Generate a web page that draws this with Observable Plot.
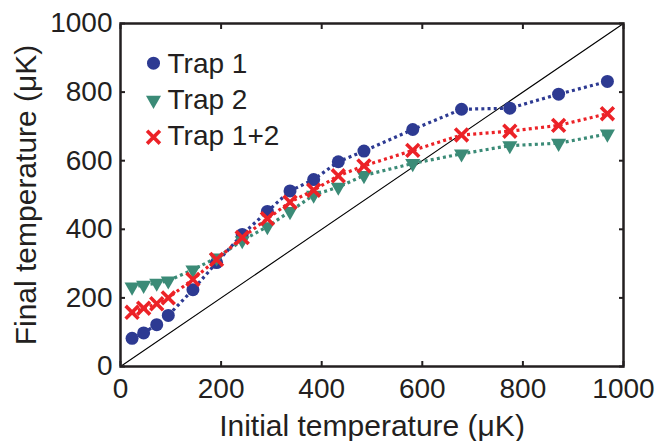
<!DOCTYPE html>
<html><head><meta charset="utf-8">
<script src="https://cdn.jsdelivr.net/npm/d3@7"></script>
<script src="https://cdn.jsdelivr.net/npm/@observablehq/plot@0.6"></script>
<style>body{margin:0;background:#fff}#chart{width:672px;height:441px}</style>
</head><body><div id="chart"></div>
<script>
// Data
const initialT = [23, 46, 72, 95, 144, 191, 242, 292, 337, 384, 433, 484, 581, 678, 774, 871, 968];
const trap1    = [82, 98, 122, 149, 224, 303, 385, 452, 512, 545, 597, 628, 691, 750, 753, 794, 831];
const trap2    = [232, 237, 243, 250, 282, 317, 367, 408, 452, 500, 523, 557, 592, 620, 644, 651, 678];
const trap12   = [158, 170, 183, 200, 254, 312, 376, 431, 479, 514, 556, 585, 630, 675, 686, 703, 737];
const seriesNames = ["Trap 1", "Trap 2", "Trap 1+2"];
const seriesValues = [trap1, trap2, trap12];
const xTicks = [0, 200, 400, 600, 800, 1000];
const yTicks = [0, 200, 400, 600, 800, 1000];
const diagonal = [0, 1000];
const xLabel = "Initial temperature (\u03BCK)";
const yLabel = "Final temperature (\u03BCK)";

const colors = ["#2d3a92", "#3b8b77", "#ec2227"];
const symbolOpts = [
  {symbol: "circle", r: 6.5, fill: colors[0], stroke: "none"},
  {symbol: "triangle", r: 5.6, rotate: 180, fill: colors[1], stroke: "none"},
  {symbol: "times", r: 5.9, stroke: colors[2], strokeWidth: 3.6, fill: "none"}
];

const rows = [];
seriesValues.forEach((vals, i) => vals.forEach((v, j) => rows.push({series: seriesNames[i], x: initialT[j], y: v})));

const fmt = d => String(d);
const marks = [];
marks.push(Plot.line(diagonal, {x: d => d, y: d => d, stroke: "#000", strokeWidth: 1.1}));
seriesNames.forEach((name, i) => {
  const data = rows.filter(d => d.series === name);
  marks.push(Plot.line(data, {x: "x", y: "y", stroke: colors[i], strokeWidth: 3.2, strokeDasharray: "3,3.2", strokeLinecap: "butt", strokeLinejoin: "miter"}));
});
seriesNames.forEach((name, i) => {
  const data = rows.filter(d => d.series === name);
  marks.push(Plot.dot(data, {x: "x", y: "y", ...symbolOpts[i]}));
});
// legend (inside frame, top-left)
seriesNames.forEach((name, i) => {
  marks.push(Plot.dot([name], {frameAnchor: "top-left", dx: 33, dy: 39.7 + i * 37, ...symbolOpts[i]}));
  marks.push(Plot.text([name], {frameAnchor: "top-left", text: d => d, dx: 47, dy: 41 + i * 36, textAnchor: "start", lineAnchor: "middle", fontSize: 28, fill: "#231f20"}));
});
marks.push(Plot.frame({stroke: "#231f20", strokeWidth: 2.5}));
marks.push(Plot.axisX({ticks: xTicks, tickFormat: fmt, anchor: "bottom", tickSize: -5, tickPadding: 17, label: null, fontSize: 28, strokeWidth: 2}));
marks.push(Plot.axisX({ticks: xTicks, anchor: "top", tickSize: -5, tickFormat: () => "", label: null, strokeWidth: 2}));
marks.push(Plot.axisY({ticks: yTicks, tickFormat: fmt, anchor: "left", tickSize: -5, tickPadding: 13, label: null, fontSize: 28, strokeWidth: 2}));
marks.push(Plot.axisY({ticks: yTicks, anchor: "right", tickSize: -5, tickFormat: () => "", label: null, strokeWidth: 2}));
marks.push(Plot.text([xLabel], {frameAnchor: "bottom", text: d => d, dy: 60, textAnchor: "middle", lineAnchor: "middle", fontSize: 30, fill: "#231f20"}));
marks.push(Plot.text([yLabel], {frameAnchor: "left", text: d => d, dx: -94.6, rotate: -90, textAnchor: "middle", lineAnchor: "middle", fontSize: 30, fill: "#231f20"}));

const chart = Plot.plot({
  width: 672,
  height: 441,
  marginLeft: 120,
  marginRight: 49,
  marginTop: 23,
  marginBottom: 75,
  x: {domain: [0, 1000], axis: null},
  y: {domain: [0, 1000], axis: null},
  style: {fontFamily: "'Liberation Sans', Arial, Helvetica, sans-serif", fontSize: "28px", color: "#231f20", background: "#fff"},
  marks
});
document.getElementById("chart").appendChild(chart);
</script>
</body></html>
